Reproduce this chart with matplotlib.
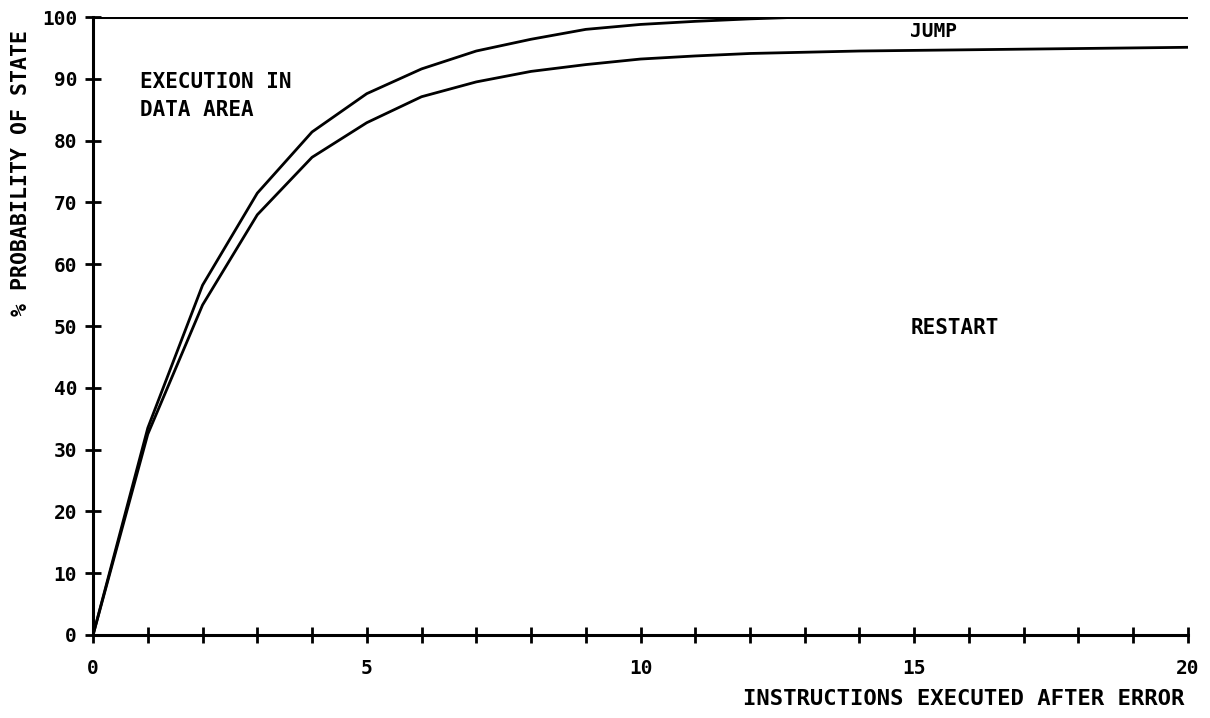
import matplotlib
matplotlib.use("Agg")
import matplotlib.pyplot as plt

# instructions executed after error
steps = list(range(0, 21))
# boundary between "execution in data area" and "jump"
upper = [0, 33.5, 56.6, 71.5, 81.4, 87.6, 91.6, 94.5, 96.4, 98.0, 98.8,
         99.3, 99.7, 100, 100, 100, 100, 100, 100, 100, 100]
# boundary between "jump" and "restart"
lower = [0, 32.5, 53.4, 68.0, 77.3, 82.9, 87.1, 89.5, 91.2, 92.3, 93.2,
         93.7, 94.1, 94.3, 94.5, 94.6, 94.7, 94.8, 94.9, 95.0, 95.1]
top = [100] * len(steps)

xticks_major = [0, 5, 10, 15, 20]
yticks = list(range(0, 101, 10))

font = {"family": "DejaVu Sans Mono", "weight": "bold"}

fig = plt.figure(figsize=(12.1, 7.18), dpi=100)
ax = fig.add_axes([0.0769, 0.1156, 0.9049, 0.8607])

ax.plot(steps, top, color="black", lw=2.2, solid_capstyle="round")
ax.plot(steps, upper, color="black", lw=2.0)
ax.plot(steps, lower, color="black", lw=2.0)

ax.set_xlim(0, 20)
ax.set_ylim(0, 100)

for s in ["top", "right"]:
    ax.spines[s].set_visible(False)
for s in ["left", "bottom"]:
    ax.spines[s].set_linewidth(2.2)

ax.set_xticks(steps)
ax.set_xticklabels([str(v) if v in xticks_major else "" for v in steps], **font, fontsize=14)
ax.set_yticks(yticks)
ax.set_yticklabels([str(v) for v in yticks], **font, fontsize=14)
ax.tick_params(axis="both", direction="inout", length=11, width=2)
ax.tick_params(axis="x", pad=12)
ax.tick_params(axis="y", pad=6)

ax.text(0.86, 89.5, "EXECUTION IN", **font, fontsize=15, va="center")
ax.text(0.86, 85.0, "DATA AREA", **font, fontsize=15, va="center")
ax.text(15.35, 97.6, "JUMP", **font, fontsize=14, ha="center", va="center")
ax.text(15.75, 49.7, "RESTART", **font, fontsize=15, ha="center", va="center")

fig.text(0.979, 0.012, "INSTRUCTIONS EXECUTED AFTER ERROR", **font, fontsize=16,
         ha="right", va="bottom")
fig.text(0.017, 0.759, "% PROBABILITY OF STATE", **font, fontsize=15.5,
         rotation=90, ha="center", va="center")

fig.savefig("out.png", dpi=100)
